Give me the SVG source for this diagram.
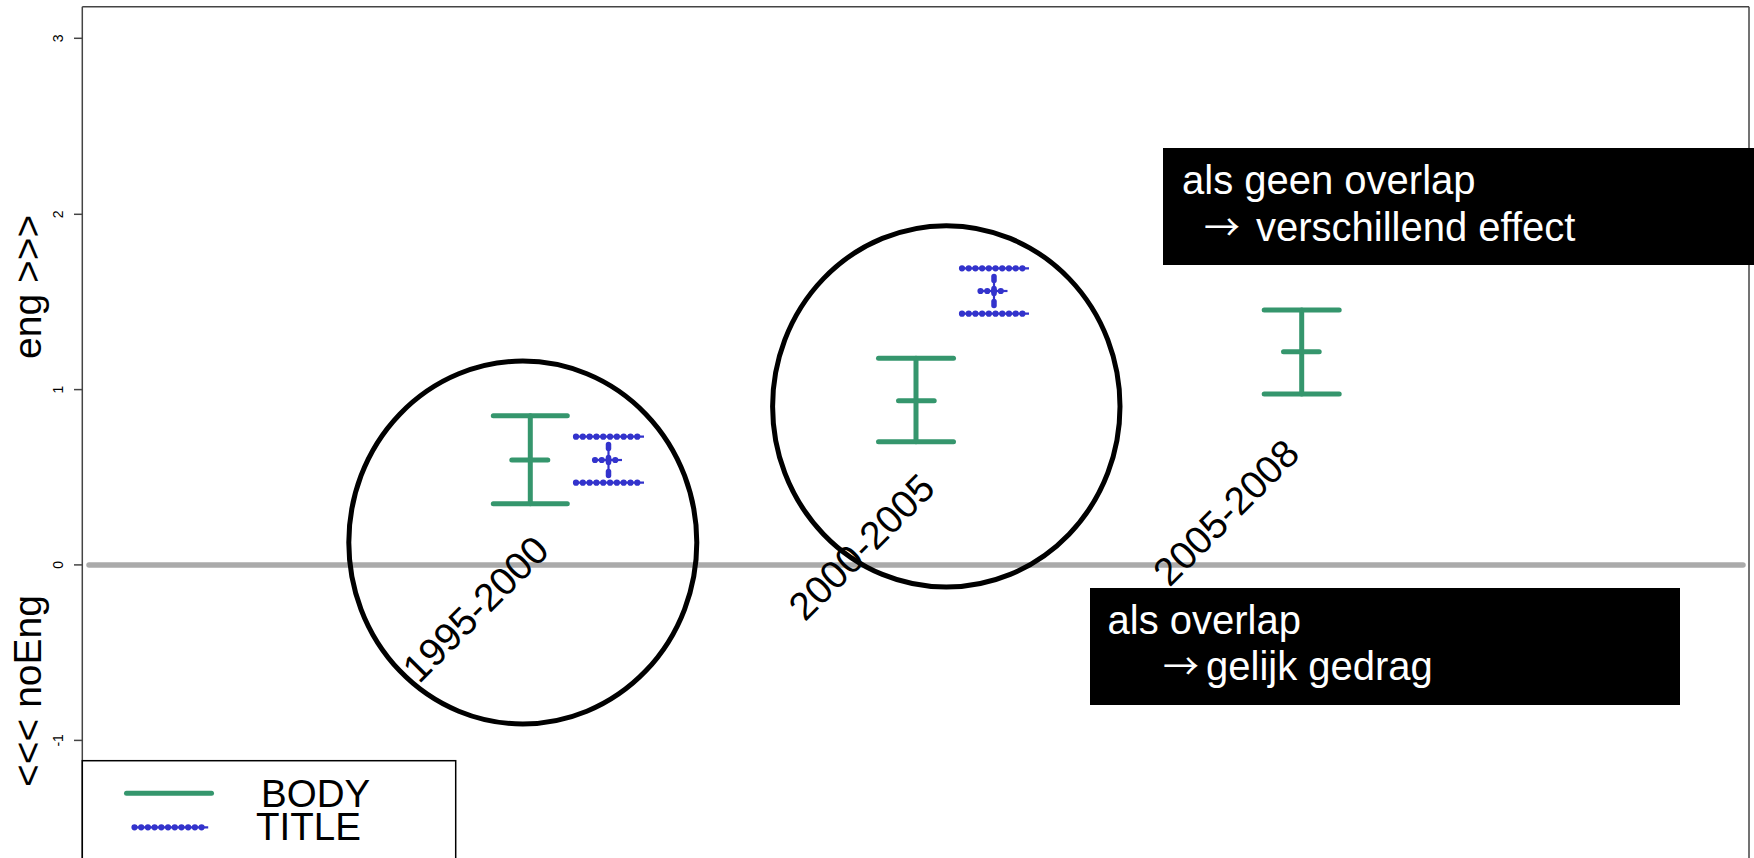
<svg xmlns="http://www.w3.org/2000/svg" width="1754" height="858" viewBox="0 0 1754 858">
<style>
text{font-family:"Liberation Sans",Arial,Helvetica,sans-serif}
.frame{stroke:#444;stroke-width:1.5;fill:none}
.tick{stroke:#444;stroke-width:1.5}
.ticklbl{font-size:14px;fill:#000}
.axt{font-size:39px;fill:#000}
.zero{stroke:#AAAAAA;stroke-width:5.5;stroke-linecap:round}
.ring{fill:none;stroke:#000;stroke-width:5}
.g{stroke:#35966D;stroke-width:5;stroke-linecap:round;fill:none}
.b{stroke:#3333CC;stroke-width:6.2;stroke-linecap:round;fill:none}
.bl{stroke:#3333CC;stroke-width:2.2;fill:none}
.bv{stroke:#3333CC;stroke-width:5.5;stroke-linecap:round;fill:none}
.lbl{font-size:39px;fill:#000;text-anchor:end}
.box{fill:#000}
.bt{font-size:40px;fill:#fff}
.arr{font-family:"Noto Sans CJK JP","Noto Sans CJK SC","DejaVu Sans",sans-serif;font-size:36px}
.leg{font-size:38.5px;fill:#000}
</style>

<g id="axes">
  <line class="frame" x1="82.3" y1="6.7" x2="1749" y2="6.7"/>
  <line class="frame" x1="82.3" y1="6.7" x2="82.3" y2="858"/>
  <line class="frame" x1="1749" y1="6.7" x2="1749" y2="858"/>
  <line class="tick" x1="74" y1="38.3" x2="82.3" y2="38.3"/>
  <line class="tick" x1="74" y1="214.3" x2="82.3" y2="214.3"/>
  <line class="tick" x1="74" y1="389.6" x2="82.3" y2="389.6"/>
  <line class="tick" x1="74" y1="564.9" x2="82.3" y2="564.9"/>
  <line class="tick" x1="74" y1="740.4" x2="82.3" y2="740.4"/>
  <text class="ticklbl" text-anchor="middle" transform="translate(63,38.3) rotate(-90)">3</text>
  <text class="ticklbl" text-anchor="middle" transform="translate(63,214.3) rotate(-90)">2</text>
  <text class="ticklbl" text-anchor="middle" transform="translate(63,389.6) rotate(-90)">1</text>
  <text class="ticklbl" text-anchor="middle" transform="translate(63,564.9) rotate(-90)">0</text>
  <text class="ticklbl" text-anchor="middle" transform="translate(63,740.4) rotate(-90)">-1</text>
  <text class="axt" transform="translate(41,359) rotate(-90)">eng &gt;&gt;&gt;</text>
  <text class="axt" transform="translate(41,787) rotate(-90)">&lt;&lt;&lt; noEng</text>
</g>

<g id="zero-line">
  <line class="zero" x1="89" y1="565" x2="1743" y2="565"/>
</g>

<g id="period-1995-2000">
  <line class="g" x1="530.3" y1="415.7" x2="530.3" y2="503.7"/>
  <line class="g" x1="493.3" y1="415.7" x2="567.3" y2="415.7"/>
  <line class="g" x1="493.3" y1="503.7" x2="567.3" y2="503.7"/>
  <line class="g" x1="511.8" y1="460" x2="547.8" y2="460"/>
  <line class="bl" x1="576" y1="436.7" x2="644" y2="436.7"/>
  <line class="bl" x1="576" y1="482.7" x2="644" y2="482.7"/>
  <line class="bl" x1="595" y1="460" x2="622" y2="460"/>
  <line class="b" x1="576" y1="436.7" x2="644.01" y2="436.7" stroke-dasharray="0.01 6.8"/>
  <line class="b" x1="576" y1="482.7" x2="644.01" y2="482.7" stroke-dasharray="0.01 6.8"/>
  <line class="b" x1="595" y1="460" x2="622.01" y2="460" stroke-dasharray="0.01 6.75"/>
  <line class="bl" x1="608.5" y1="444" x2="608.5" y2="476"/>
  <line class="bv" x1="608.5" y1="444.5" x2="608.5" y2="448.5"/>
  <line class="bv" x1="608.5" y1="457.5" x2="608.5" y2="462.5"/>
  <line class="bv" x1="608.5" y1="471.5" x2="608.5" y2="475.5"/>
  <text class="lbl" transform="translate(551,552.5) rotate(-45)">1995-2000</text>
</g>

<g id="period-2000-2005">
  <line class="g" x1="916" y1="358.3" x2="916" y2="441.7"/>
  <line class="g" x1="878.5" y1="358.3" x2="953.5" y2="358.3"/>
  <line class="g" x1="878.5" y1="441.7" x2="953.5" y2="441.7"/>
  <line class="g" x1="898.5" y1="400.7" x2="934.2" y2="400.7"/>
  <line class="bl" x1="962" y1="268.3" x2="1029" y2="268.3"/>
  <line class="bl" x1="962" y1="313.7" x2="1029" y2="313.7"/>
  <line class="bl" x1="980.5" y1="291" x2="1007.5" y2="291"/>
  <line class="b" x1="962" y1="268.3" x2="1029.01" y2="268.3" stroke-dasharray="0.01 6.7"/>
  <line class="b" x1="962" y1="313.7" x2="1029.01" y2="313.7" stroke-dasharray="0.01 6.7"/>
  <line class="b" x1="980.5" y1="291" x2="1007.51" y2="291" stroke-dasharray="0.01 6.75"/>
  <line class="bl" x1="994" y1="276" x2="994" y2="306"/>
  <line class="bv" x1="994" y1="276.5" x2="994" y2="280.5"/>
  <line class="bv" x1="994" y1="288.5" x2="994" y2="293.5"/>
  <line class="bv" x1="994" y1="301.5" x2="994" y2="305.5"/>
  <text class="lbl" transform="translate(937,490.5) rotate(-45)">2000-2005</text>
</g>

<g id="period-2005-2008">
  <line class="g" x1="1301.7" y1="310" x2="1301.7" y2="394"/>
  <line class="g" x1="1264.2" y1="310" x2="1339.2" y2="310"/>
  <line class="g" x1="1264.2" y1="394" x2="1339.2" y2="394"/>
  <line class="g" x1="1283.5" y1="351.7" x2="1319.2" y2="351.7"/>
  <text class="lbl" transform="translate(1301.5,456) rotate(-45)">2005-2008</text>
</g>

<g id="ring-1">
  <ellipse class="ring" cx="522.8" cy="542.5" rx="174" ry="181.5"/>
</g>
<g id="ring-2">
  <ellipse class="ring" cx="946.3" cy="406.4" rx="173.7" ry="180.7"/>
</g>

<g id="note-geen-overlap">
  <rect class="box" x="1163" y="148" width="591" height="117"/>
  <text class="bt" x="1182" y="194">als geen overlap</text>
  <text class="bt" y="240.5"><tspan class="arr" x="1204">→</tspan><tspan x="1256">verschillend effect</tspan></text>
</g>

<g id="note-overlap">
  <rect class="box" x="1090" y="588" width="590" height="117"/>
  <text class="bt" x="1107.5" y="634">als overlap</text>
  <text class="bt" y="680"><tspan class="arr" x="1163">→</tspan><tspan x="1206">gelijk gedrag</tspan></text>
</g>

<g id="legend">
  <rect x="82.3" y="760.7" width="373.4" height="110" fill="#fff" stroke="#000" stroke-width="1.5"/>
  <line class="g" x1="126.5" y1="793.3" x2="211.5" y2="793.3"/>
  <line class="bl" x1="134.5" y1="827.3" x2="208.2" y2="827.3"/>
  <line class="b" x1="134.5" y1="827.3" x2="208.21" y2="827.3" stroke-dasharray="0.01 6.7"/>
  <text class="leg" x="261" y="806.7">BODY</text>
  <text class="leg" x="256" y="840">TITLE</text>
</g>

<g id="connectors"></g>
</svg>
